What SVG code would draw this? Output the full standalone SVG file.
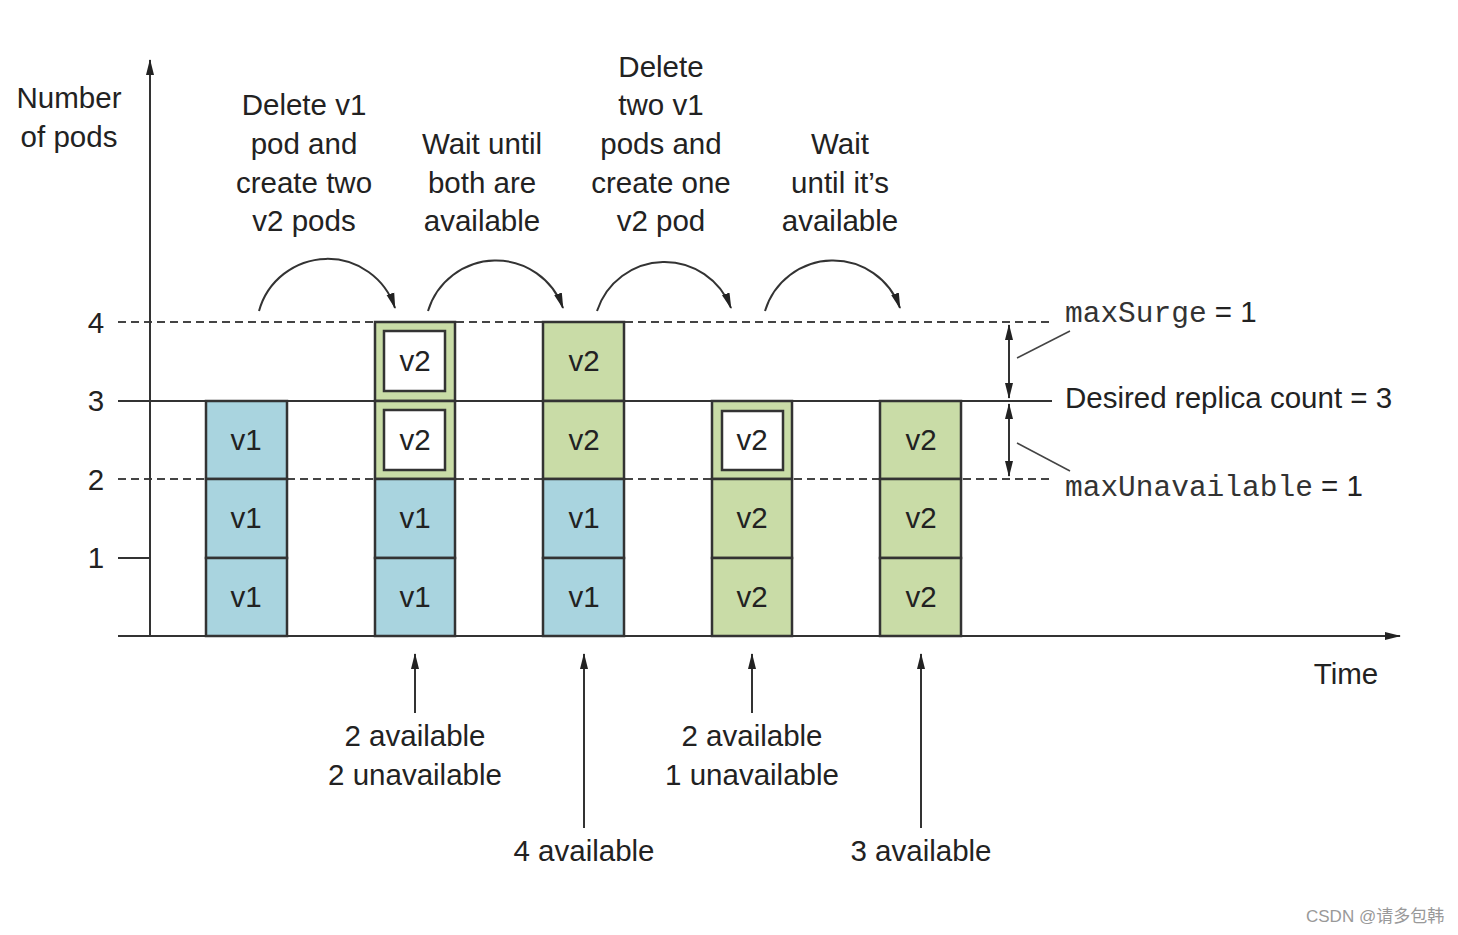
<svg xmlns="http://www.w3.org/2000/svg" width="1458" height="935" viewBox="0 0 1458 935">
<style>
text{font-family:"Liberation Sans",Arial,sans-serif;font-size:29.5px;fill:#222;}
.c{text-anchor:middle;}
.mono{font-family:"Liberation Mono","Courier New",monospace;font-size:29.5px;fill:#333;}
.v1{fill:#a9d4df;stroke:#333;stroke-width:2.5;}
.v2{fill:#c9dca7;stroke:#333;stroke-width:2.5;}
.inner{fill:#fff;stroke:#333;stroke-width:2.5;}
.ln{stroke:#333;stroke-width:2;fill:none;}
.dash{stroke:#444;stroke-width:2;stroke-dasharray:8,5;fill:none;}
.wm{font-family:"Liberation Sans","Noto Sans CJK SC",sans-serif;font-size:17px;fill:#999;}
</style>
<defs>
<marker id="ahb" viewBox="0 0 16 10" refX="15" refY="5" markerWidth="16" markerHeight="10" markerUnits="userSpaceOnUse" orient="auto-start-reverse">
<path d="M0,1 L16,5 L0,9 z" fill="#222"/>
</marker>
</defs>
<rect width="1458" height="935" fill="#fff"/>

<g id="grid">
<line class="dash" x1="118" y1="322" x2="1052" y2="322"/>
<line class="dash" x1="118" y1="479" x2="1052" y2="479"/>
<line class="ln" x1="118" y1="401" x2="1052" y2="401"/>
<line class="ln" x1="118" y1="558" x2="150" y2="558"/>
</g>

<g id="axes">
<line class="ln" x1="150" y1="636" x2="150" y2="60" marker-end="url(#ahb)"/>
<line class="ln" x1="118" y1="636" x2="1400" y2="636" marker-end="url(#ahb)"/>
<text class="c" x="69" y="108">Number</text>
<text class="c" x="69" y="147">of pods</text>
<text class="c" x="96" y="333">4</text>
<text class="c" x="96" y="411">3</text>
<text class="c" x="96" y="490">2</text>
<text class="c" x="96" y="568">1</text>
<text class="c" x="1346" y="684">Time</text>
</g>

<g id="col1">
<rect class="v1" x="206" y="401" width="81" height="78"/>
<rect class="v1" x="206" y="479" width="81" height="79"/>
<rect class="v1" x="206" y="558" width="81" height="78"/>
<text class="c" x="246" y="450">v1</text>
<text class="c" x="246" y="528">v1</text>
<text class="c" x="246" y="607">v1</text>
</g>

<g id="col2">
<rect class="v2" x="375" y="322" width="80" height="79"/>
<rect class="v2" x="375" y="401" width="80" height="78"/>
<rect class="inner" x="384" y="331" width="61" height="60"/>
<rect class="inner" x="384" y="410" width="61" height="60"/>
<rect class="v1" x="375" y="479" width="80" height="79"/>
<rect class="v1" x="375" y="558" width="80" height="78"/>
<text class="c" x="415" y="371">v2</text>
<text class="c" x="415" y="450">v2</text>
<text class="c" x="415" y="528">v1</text>
<text class="c" x="415" y="607">v1</text>
</g>

<g id="col3">
<rect class="v2" x="543" y="322" width="81" height="79"/>
<rect class="v2" x="543" y="401" width="81" height="78"/>
<rect class="v1" x="543" y="479" width="81" height="79"/>
<rect class="v1" x="543" y="558" width="81" height="78"/>
<text class="c" x="584" y="371">v2</text>
<text class="c" x="584" y="450">v2</text>
<text class="c" x="584" y="528">v1</text>
<text class="c" x="584" y="607">v1</text>
</g>

<g id="col4">
<rect class="v2" x="712" y="401" width="80" height="78"/>
<rect class="inner" x="722" y="411" width="61" height="59"/>
<rect class="v2" x="712" y="479" width="80" height="79"/>
<rect class="v2" x="712" y="558" width="80" height="78"/>
<text class="c" x="752" y="450">v2</text>
<text class="c" x="752" y="528">v2</text>
<text class="c" x="752" y="607">v2</text>
</g>

<g id="col5">
<rect class="v2" x="880" y="401" width="81" height="78"/>
<rect class="v2" x="880" y="479" width="81" height="79"/>
<rect class="v2" x="880" y="558" width="81" height="78"/>
<text class="c" x="921" y="450">v2</text>
<text class="c" x="921" y="528">v2</text>
<text class="c" x="921" y="607">v2</text>
</g>

<g id="steps">
<text class="c" x="304" y="115">Delete v1</text>
<text class="c" x="304" y="154">pod and</text>
<text class="c" x="304" y="193">create two</text>
<text class="c" x="304" y="231">v2 pods</text>
<text class="c" x="482" y="154">Wait until</text>
<text class="c" x="482" y="193">both are</text>
<text class="c" x="482" y="231">available</text>
<text class="c" x="661" y="77">Delete</text>
<text class="c" x="661" y="115">two v1</text>
<text class="c" x="661" y="154">pods and</text>
<text class="c" x="661" y="193">create one</text>
<text class="c" x="661" y="231">v2 pod</text>
<text class="c" x="840" y="154">Wait</text>
<text class="c" x="840" y="193">until it’s</text>
<text class="c" x="840" y="231">available</text>
</g>

<g id="limits">
<text x="1065" y="322"><tspan class="mono">maxSurge</tspan> = 1</text>
<text x="1065" y="408">Desired replica count = 3</text>
<text x="1065" y="496"><tspan class="mono">maxUnavailable</tspan> = 1</text>
</g>

<g id="bottom-labels">
<text class="c" x="415" y="746">2 available</text>
<text class="c" x="415" y="785">2 unavailable</text>
<text class="c" x="584" y="861">4 available</text>
<text class="c" x="752" y="746">2 available</text>
<text class="c" x="752" y="785">1 unavailable</text>
<text class="c" x="921" y="861">3 available</text>
</g>

<g id="connectors">
<path class="ln" d="M259,311 A71,71 0 0 1 395,308" marker-end="url(#ahb)"/>
<path class="ln" d="M428,311 A71,71 0 0 1 563,308" marker-end="url(#ahb)"/>
<path class="ln" d="M597,311 A71,71 0 0 1 731,308" marker-end="url(#ahb)"/>
<path class="ln" d="M765,311 A71,71 0 0 1 900,308" marker-end="url(#ahb)"/>
<line class="ln" x1="1009" y1="325" x2="1009" y2="398" marker-start="url(#ahb)" marker-end="url(#ahb)"/>
<line class="ln" x1="1009" y1="404" x2="1009" y2="476" marker-start="url(#ahb)" marker-end="url(#ahb)"/>
<line stroke="#444" stroke-width="1.5" x1="1017" y1="358" x2="1070" y2="331"/>
<line stroke="#444" stroke-width="1.5" x1="1017" y1="443" x2="1070" y2="471"/>
<line class="ln" x1="415" y1="713" x2="415" y2="654" marker-end="url(#ahb)"/>
<line class="ln" x1="584" y1="828" x2="584" y2="654" marker-end="url(#ahb)"/>
<line class="ln" x1="752" y1="713" x2="752" y2="654" marker-end="url(#ahb)"/>
<line class="ln" x1="921" y1="828" x2="921" y2="654" marker-end="url(#ahb)"/>
</g>

<text class="wm" x="1306" y="922">CSDN @请多包韩</text>
</svg>
